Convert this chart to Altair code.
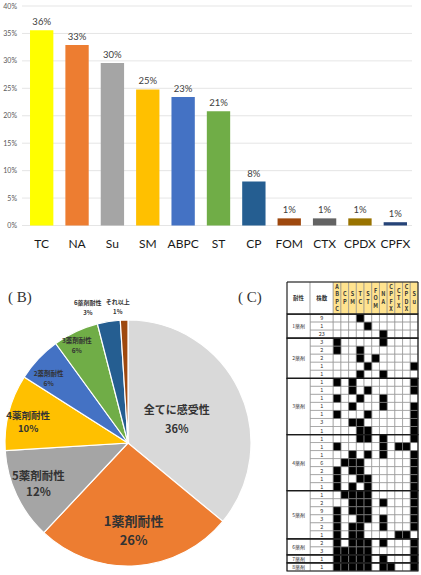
import altair as alt
import pandas as pd

# ---------------- (A) resistance rate by drug ----------------
drug_names = ["TC", "NA", "Su", "SM", "ABPC", "ST", "CP", "FOM", "CTX", "CPDX", "CPFX"]
resist_rate = [0.356, 0.329, 0.296, 0.248, 0.234, 0.208, 0.080, 0.013, 0.013, 0.013, 0.006]
rate_ticks = [0.0, 0.05, 0.10, 0.15, 0.20, 0.25, 0.30, 0.35, 0.40]

# ---------------- (B) isolates by number of drugs resisted ----------------
class_names = ["全てに感受性", "1薬剤耐性", "5薬剤耐性", "4薬剤耐性",
               "2薬剤耐性", "3薬剤耐性", "6薬剤耐性", "それ以上"]
class_pct = [36, 26, 12, 10, 6, 6, 3, 1]

# ---------------- (C) resistance patterns ----------------
pattern_drugs = ["ABPC", "CP", "SM", "TC", "ST", "FOM", "NA", "CPFX", "CTX", "CPDX", "Su"]
pattern_group = (["1薬剤"] * 3 + ["2薬剤"] * 5 + ["3薬剤"] * 7 + ["4薬剤"] * 7
                 + ["5薬剤"] * 6 + ["6薬剤"] * 2 + ["7薬剤", "8薬剤"])
pattern_count = [9, 1, 23,
                 3, 2, 2, 1, 1,
                 1, 1, 1, 1, 1, 3, 1,
                 1, 1, 1, 6, 2, 1, 1,
                 1, 2, 9, 3, 2, 1,
                 2, 3,
                 1,
                 1]
pattern_resist = [
    "TC", "ST", "NA",
    "ABPC NA", "ABPC TC", "TC FOM", "ST Su", "TC NA",
    "ABPC SM Su", "SM ST Su", "ABPC TC NA", "SM NA Su", "ABPC ST Su", "SM TC Su", "TC ST Su",
    "TC ST NA Su", "ABPC NA CTX CPDX", "SM ST NA Su", "CP SM TC Su",
    "ABPC SM TC Su", "ABPC TC ST Su", "ABPC SM ST Su",
    "CP SM TC ST Su", "SM TC ST NA Su", "ABPC SM TC ST Su", "ABPC TC ST NA Su",
    "ABPC SM TC NA Su", "ABPC SM TC CTX CPDX",
    "ABPC SM TC ST NA Su", "ABPC CP SM TC ST Su",
    "ABPC CP SM TC ST NA Su",
    "ABPC CP SM TC ST NA CPFX Su",
]

# ---------------- styling ----------------
bar_colors = ["#FFFF00", "#ED7D31", "#A5A5A5", "#FFC000", "#4472C4", "#70AD47",
              "#255E91", "#9E480E", "#636363", "#997300", "#264478"]
class_colors = ["#D9D9D9", "#ED7D31", "#A5A5A5", "#FFC000", "#4472C4", "#70AD47",
                "#255E91", "#9E480E"]
# pie label placement: angle shift (in % of the circle), radius, font size, line height
class_label_style = {
    "全てに感受性": (0.0, 54, 11, 19),
    "1薬剤耐性": (0.0, 89, 13, 19),
    "5薬剤耐性": (0.0, 99, 11.5, 16),
    "4薬剤耐性": (-0.75, 102, 9.5, 13),
    "2薬剤耐性": (-1.2, 102, 6.5, 10),
    "3薬剤耐性": (-0.7, 110, 6.5, 10),
    "6薬剤耐性": (-2.1, 141, 6, 10),
    "それ以上": (-0.7, 136, 6, 10),
}
JP = "Noto Sans CJK JP"
LAT = "Lato"
PIE_X, PIE_Y, PIE_R = 128, 443, 123

# ======================= bar chart =======================
bars_df = pd.DataFrame({"drug": drug_names, "rate": resist_rate})
grid_df = pd.DataFrame({"rate": rate_ticks})

y_axis = alt.Axis(title=None, values=rate_ticks, format=".0%", offset=-22,
                  domain=False, ticks=False, grid=False, labelPadding=5.5,
                  labelFontSize=7, labelFont=LAT, labelColor="#595959")
y_bar = alt.Y("rate:Q", axis=y_axis,
              scale=alt.Scale(domain=[0, 0.4], range=[225.5, 6], nice=False))
x_bar = alt.X("drug:N", sort=drug_names,
              scale=alt.Scale(domain=drug_names, range=[24, 413],
                              paddingInner=0.34, paddingOuter=0.17),
              axis=alt.Axis(title=None, orient="bottom", offset=-350, domain=False,
                            ticks=False, tickSize=0, labelPadding=13, labelAngle=0,
                            labelFontSize=12, labelFont=LAT, labelColor="#1a1a1a"))

grid = alt.Chart(grid_df).mark_rule(color="#DEDEDE", strokeWidth=0.8).encode(
    y=y_bar, x=alt.value(22), x2=alt.value(412))
bars = alt.Chart(bars_df).mark_bar().encode(
    x=x_bar, y=y_bar,
    color=alt.Color("drug:N", scale=alt.Scale(domain=drug_names, range=bar_colors),
                    legend=None))
bar_text = alt.Chart(bars_df).mark_text(
    baseline="bottom", dy=-3, fontSize=9.5, font=LAT, color="#404040").encode(
    x=x_bar, y=y_bar, text=alt.Text("rate:Q", format=".0%"))
bar_group = alt.layer(grid, bars, bar_text)

# ======================= pie chart =======================
pie_df = pd.DataFrame({"name": class_names, "pct": class_pct,
                       "idx": list(range(len(class_names)))})
start = pie_df["pct"].cumsum() - pie_df["pct"]
pie_df["mid"] = start + pie_df["pct"] / 2
pie_df["tl"] = [m + class_label_style[n][0] for n, m in zip(pie_df["name"], pie_df["mid"])]
pie_df["label"] = [f"{n}\n{p}%" for n, p in zip(pie_df["name"], pie_df["pct"])]

theta_scale = alt.Scale(domain=[0, 100])
arcs = alt.Chart(pie_df).mark_arc(outerRadius=PIE_R, stroke="white", strokeWidth=1.2).encode(
    theta=alt.Theta("pct:Q", stack=True, scale=theta_scale),
    color=alt.Color("name:N", scale=alt.Scale(domain=class_names, range=class_colors),
                    legend=None),
    order=alt.Order("idx:Q"),
    x=alt.value(PIE_X), y=alt.value(PIE_Y))

pie_layers = [arcs]
for n in class_names:
    _, r, fs, lh = class_label_style[n]
    pie_layers.append(
        alt.Chart(pie_df).transform_filter(alt.FieldEqualPredicate(field="name", equal=n))
        .mark_text(radius=r, fontSize=fs, lineHeight=lh, dy=-lh / 2, font=JP,
                   fontWeight="bold", color="#333333", lineBreak="\n",
                   baseline="middle", align="center")
        .encode(theta=alt.Theta("tl:Q", scale=theta_scale), text="label:N",
                x=alt.value(PIE_X), y=alt.value(PIE_Y)))
pie_group = alt.layer(*pie_layers)

# ======================= pattern table =======================
n_rows = len(pattern_count)
n_head = 4          # header height in row units
w_side = 3          # width of the two label columns in cell units
n_cols = 2 * w_side + len(pattern_drugs)
TY0, TY1 = 282, 571
unit_px = (TY1 - TY0) / (n_head + n_rows)
head_lh = 7.5       # line height of the stacked header letters, px

cells = []
for r, res in enumerate(pattern_resist):
    hit = set(res.split())
    for c, d in enumerate(pattern_drugs):
        cells.append({"x0": 2 * w_side + c, "x1": 2 * w_side + c + 1,
                      "y0": n_head + r, "y1": n_head + r + 1, "hit": int(d in hit)})
cells_df = pd.DataFrame(cells)

count_df = pd.DataFrame({"x0": w_side, "x1": 2 * w_side,
                         "y0": [n_head + r for r in range(n_rows)],
                         "y1": [n_head + r + 1 for r in range(n_rows)],
                         "xm": 1.5 * w_side,
                         "ym": [n_head + r + 0.5 for r in range(n_rows)],
                         "count": [str(v) for v in pattern_count]})

groups = []
for g in dict.fromkeys(pattern_group):
    rows = [i for i, v in enumerate(pattern_group) if v == g]
    groups.append({"g": g, "x0": 0, "x1": w_side, "xe": n_cols,
                   "y0": n_head + rows[0], "y1": n_head + rows[-1] + 1,
                   "xm": w_side / 2, "ym": n_head + (rows[0] + rows[-1] + 1) / 2})
group_df = pd.DataFrame(groups)

head_df = pd.DataFrame(
    [{"x0": 0, "x1": w_side, "t": "耐性", "kind": "side"},
     {"x0": w_side, "x1": 2 * w_side, "t": "株数", "kind": "side"}]
    + [{"x0": 2 * w_side + c, "x1": 2 * w_side + c + 1, "t": "\n".join(d), "kind": "drug"}
       for c, d in enumerate(pattern_drugs)])
head_df["y0"] = 0
head_df["y1"] = n_head
head_df["xm"] = (head_df["x0"] + head_df["x1"]) / 2
# centre each stacked label block inside the header row
head_df["ym"] = [n_head / 2 - (t.count("\n") / 2) * head_lh / unit_px for t in head_df["t"]]

tx = alt.Scale(domain=[0, n_cols], range=[287, 418], nice=False, zero=False)
ty = alt.Scale(domain=[0, n_head + n_rows], range=[TY0, TY1], nice=False, zero=False)

def rect_enc(xf="x0", x2f="x1"):
    return dict(x=alt.X(f"{xf}:Q", scale=tx, axis=None), x2=f"{x2f}:Q",
                y=alt.Y("y0:Q", scale=ty, axis=None), y2="y1:Q")

def text_enc(field):
    return dict(x=alt.X("xm:Q", scale=tx, axis=None), y=alt.Y("ym:Q", scale=ty, axis=None),
                text=f"{field}:N")

grid_stroke = "#8a8a8a"

def filled_rects(df, field, value, fill):
    return alt.Chart(df).transform_filter(
        alt.FieldEqualPredicate(field=field, equal=value)
    ).mark_rect(fill=fill, stroke=grid_stroke, strokeWidth=0.6).encode(**rect_enc())

head_side = filled_rects(head_df, "kind", "side", "#FFFFFF")
head_drug = filled_rects(head_df, "kind", "drug", "#FFE38F")
cell_off = filled_rects(cells_df, "hit", 0, "#FFFFFF")
cell_on = filled_rects(cells_df, "hit", 1, "#000000")
count_rects = alt.Chart(count_df).mark_rect(
    fill="white", stroke=grid_stroke, strokeWidth=0.6).encode(**rect_enc())
group_rects = alt.Chart(group_df).mark_rect(
    fill="white", stroke=grid_stroke, strokeWidth=0.6).encode(**rect_enc())
group_frames = alt.Chart(group_df).mark_rect(
    filled=False, color="#1a1a1a", strokeWidth=1.2).encode(**rect_enc("x0", "xe"))
head_frame = alt.Chart(pd.DataFrame({"x0": [0], "xe": [n_cols], "y0": [0], "y1": [n_head]})
                       ).mark_rect(filled=False, color="#1a1a1a", strokeWidth=1.0).encode(
    **rect_enc("x0", "xe"))

head_text = alt.Chart(head_df).mark_text(
    font=JP, fontWeight="bold", fontSize=5.5, lineHeight=head_lh, lineBreak="\n",
    color="#333333", baseline="middle").encode(**text_enc("t"))
count_text = alt.Chart(count_df).mark_text(
    font=JP, fontSize=5.5, color="#333333", baseline="middle").encode(**text_enc("count"))
group_text = alt.Chart(group_df).mark_text(
    font=JP, fontSize=5, color="#333333", baseline="middle").encode(**text_enc("g"))

table_group = alt.layer(head_side, head_drug, count_rects, group_rects, cell_off, cell_on,
                        group_frames, head_frame, head_text, count_text, group_text)

# ======================= panel tags =======================
tag_b = alt.Chart(pd.DataFrame({"t": ["( B)"]})).mark_text(
    font="Liberation Serif", fontSize=15, align="left", baseline="middle",
    color="#333333").encode(text="t:N", x=alt.value(8), y=alt.value(297))
tag_c = alt.Chart(pd.DataFrame({"t": ["( C)"]})).mark_text(
    font="Liberation Serif", fontSize=15, align="left", baseline="middle",
    color="#333333").encode(text="t:N", x=alt.value(238), y=alt.value(297))

chart = alt.layer(bar_group, pie_group, table_group, tag_b, tag_c).resolve_scale(
    x="independent", y="independent", color="independent"
).properties(
    width=421, height=575, padding=0,
    autosize=alt.AutoSizeParams(type="none"),
    background="white",
).configure_view(strokeWidth=0)

chart.save("out.html", embed_options={"renderer": "svg", "actions": False})
